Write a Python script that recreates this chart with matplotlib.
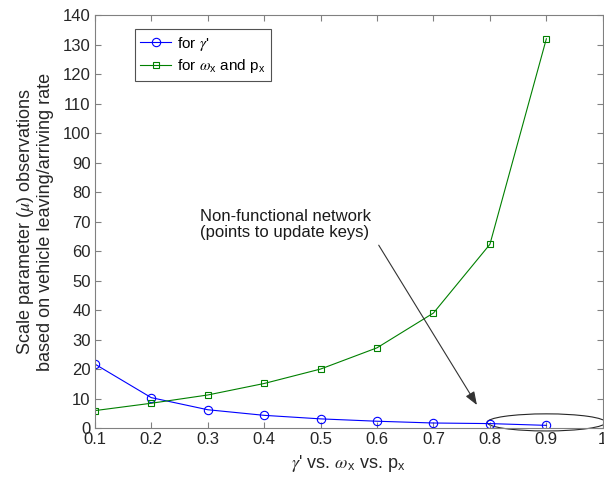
import matplotlib
matplotlib.use('Agg')
import matplotlib.pyplot as plt
from matplotlib.patches import Ellipse

plt.rcParams['font.family'] = ['Liberation Sans', 'DejaVu Sans']
plt.rcParams['mathtext.fontset'] = 'stix'

# x positions and the two observation series
x_vals = [0.1, 0.2, 0.3, 0.4, 0.5, 0.6, 0.7, 0.8, 0.9]
mu_gamma = [21.7, 10.3, 6.2, 4.3, 3.1, 2.3, 1.7, 1.5, 0.9]
mu_omega_p = [5.9, 8.4, 11.2, 15.1, 20.0, 27.2, 39.0, 62.3, 132.0]

x_ticks = [0.1, 0.2, 0.3, 0.4, 0.5, 0.6, 0.7, 0.8, 0.9, 1.0]
x_tick_labels = ['0.1', '0.2', '0.3', '0.4', '0.5', '0.6', '0.7', '0.8', '0.9', '1']
y_ticks = list(range(0, 141, 10))

fig = plt.figure(figsize=(6.04, 4.90), dpi=100)
ax = fig.add_axes([0.157, 0.1265, 0.841, 0.8425])

ax.plot(x_vals, mu_gamma, color='#0000ff', lw=0.8, marker='o', ms=6,
        mfc='none', mew=0.8, label=r"for $\gamma$'")
ax.plot(x_vals, mu_omega_p, color='#008000', lw=0.8, marker='s', ms=5,
        mfc='none', mew=0.8, label=r"for $\omega_{\mathregular{x}}$ and p$_{\mathregular{x}}$")

ax.set_xlim(0.1, 1.0)
ax.set_ylim(0, 140)
ax.set_xticks(x_ticks)
ax.set_xticklabels(x_tick_labels)
ax.set_yticks(y_ticks)

for s in ax.spines.values():
    s.set_color('#808080')
    s.set_linewidth(0.8)
ax.tick_params(direction='in', top=True, right=True, length=4, width=0.8,
               color='#808080', labelcolor='#262626', labelsize=12, pad=3)

ax.set_xlabel(r"$\gamma$' vs. $\omega_{\mathregular{x}}$ vs. p$_{\mathregular{x}}$",
              fontsize=13, color='#262626', labelpad=4)
ax.set_ylabel("Scale parameter ($\\mu$) observations\nbased on vehicle leaving/arriving rate",
              fontsize=13, color='#262626', labelpad=6, linespacing=1.15)

leg = ax.legend(loc='upper left', bbox_to_anchor=(0.079, 0.966), fontsize=11,
                frameon=True, fancybox=False, handlelength=2.0, borderpad=0.35,
                labelspacing=0.3, handletextpad=0.4, borderaxespad=0)
leg.get_frame().set_edgecolor('#262626')
leg.get_frame().set_linewidth(0.8)

# highlight the last points
ell = Ellipse((0.9, 1.9), 0.21, 5.8, fill=False, edgecolor='#262626', lw=0.8,
              clip_on=False)
ax.add_patch(ell)

ax.text(0.437, 69, 'Non-functional network\n(points to update keys)',
        ha='center', va='center', fontsize=12, color='#1a1a1a', linespacing=1.15)
ax.annotate('', xy=(0.777, 7.8), xytext=(0.603, 62),
            arrowprops=dict(arrowstyle='-|>,head_length=0.8,head_width=0.3',
                            color='#333333', lw=0.8, shrinkA=0, shrinkB=0))

fig.savefig('out.png', dpi=100)
